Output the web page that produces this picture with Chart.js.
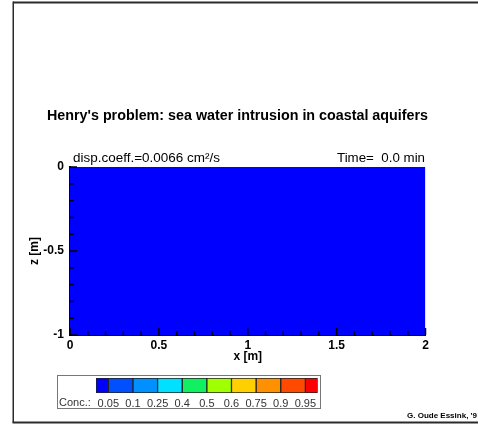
<!DOCTYPE html>
<html><head><meta charset="utf-8">
<script src="https://cdn.jsdelivr.net/npm/chart.js@4/dist/chart.umd.min.js"></script>
<style>
html,body{margin:0;padding:0;background:#fff;}
#wrap{position:relative;width:478px;height:424px;overflow:hidden;background:#fff;}
#main{position:absolute;left:0;top:0;}
#leg{position:absolute;left:57px;top:375px;}
</style></head><body>
<div id="wrap"><canvas id="main" width="478" height="424"></canvas><canvas id="leg" width="265" height="35"></canvas></div>
<script>
// ---- data ----
const xDomain = [0, 2];          // x [m] extent of the aquifer
const zTop = [0, 0];             // z [m] top of the domain (fill down to -1)
const xTicks = [0, 0.5, 1, 1.5, 2];
const zTicks = [0, -0.5, -1];
const concLevels = ['0.05','0.1','0.25','0.4','0.5','0.6','0.75','0.9','0.95'];
const concColors = ['#0000ff','#0050ff','#0090ff','#00e0ff','#10f060','#a0ff00','#ffd000','#ff9000','#ff4a00','#ff0000'];
const initialConc = 0;           // whole domain fresh water at t = 0
const titleText = "Henry's problem: sea water intrusion in coastal aquifers";
const dispText = 'disp.coeff.=0.0066 cm²/s';
const timeText = 'Time=  0.0 min';
const concLabel = 'Conc.:';
const creditText = "G. Oude Essink, '9";

const FONT = '"Liberation Sans", Arial, Helvetica, sans-serif';

function colorFor(c){
  let i = 0;
  while (i < concLevels.length && c >= parseFloat(concLevels[i])) i++;
  return concColors[i];
}
function drawFitted(ctx, text, x, y, w, align){
  const nat = ctx.measureText(text).width;
  const s = w / nat;
  ctx.save();
  ctx.translate(x, y);
  ctx.scale(s, 1);
  ctx.textAlign = align || 'left';
  ctx.fillText(text, 0, 0);
  ctx.restore();
}

const ticksPlugin = {
  id: 'innerTicks',
  afterDatasetsDraw(chart){
    const {ctx, chartArea: a, scales: {x, y}} = chart;
    ctx.save();
    ctx.strokeStyle = '#000';
    ctx.lineWidth = 1.5;
    for (let i = 0; i <= 20; i++){
      const px = x.getPixelForValue(i / 10);
      const L = (i % 5 === 0) ? 7 : 4;
      ctx.beginPath(); ctx.moveTo(px, a.bottom); ctx.lineTo(px, a.bottom - L); ctx.stroke();
    }
    for (let i = 0; i <= 10; i++){
      const py = y.getPixelForValue(-i / 10);
      const L = (i % 5 === 0) ? 7 : 4;
      ctx.beginPath(); ctx.moveTo(a.left, py); ctx.lineTo(a.left + L, py); ctx.stroke();
    }
    ctx.restore();
  }
};

const textPlugin = {
  id: 'texts',
  afterDraw(chart){
    const {ctx, chartArea: a} = chart;
    ctx.save();
    // frame
    ctx.fillStyle = '#2b2b2b';
    ctx.fillRect(13, 1.5, 465, 2);
    ctx.fillRect(12.5, 1.5, 1.5, 421);
    ctx.fillRect(12.5, 421.5, 466, 2);
    // title
    ctx.fillStyle = '#000';
    ctx.textBaseline = 'alphabetic';
    ctx.font = 'bold 15px ' + FONT;
    drawFitted(ctx, titleText, 47, 119.5, 381, 'left');
    // annotations
    ctx.font = '12px ' + FONT;
    drawFitted(ctx, dispText, 73, 161.5, 147, 'left');
    drawFitted(ctx, timeText, 425, 161.5, 88, 'right');
    // axis titles
    ctx.font = 'bold 12px ' + FONT;
    ctx.textAlign = 'center';
    ctx.textBaseline = 'alphabetic';
    ctx.fillText('x [m]', (a.left + a.right) / 2, 360);
    ctx.save();
    ctx.translate(37.5, (a.top + a.bottom) / 2);
    ctx.rotate(-Math.PI / 2);
    ctx.fillText('z [m]', 0, 0);
    ctx.restore();
    // credit
    ctx.font = 'bold 8px ' + FONT;
    ctx.textAlign = 'left';
    ctx.fillText(creditText, 407, 418);
    ctx.restore();
  }
};

new Chart(document.getElementById('main'), {
  type: 'line',
  data: {
    datasets: [{
      data: xDomain.map((xv, i) => ({x: xv, y: zTop[i]})),
      fill: 'start',
      backgroundColor: colorFor(initialConc),
      borderWidth: 0,
      pointRadius: 0,
      tension: 0
    }]
  },
  options: {
    responsive: false,
    animation: false,
    layout: {padding: {top: 167, right: 52.5, left: 0, bottom: 0}},
    plugins: {legend: {display: false}, title: {display: false}, tooltip: {enabled: false}},
    scales: {
      x: {
        type: 'linear', min: xDomain[0], max: xDomain[1],
        afterBuildTicks: s => { s.ticks = xTicks.map(v => ({value: v})); },
        afterFit: s => { s.height = 89; },
        grid: {display: false, drawTicks: false},
        border: {display: true, color: '#000', width: 2},
        ticks: {color: '#000', padding: 3, font: {family: FONT, size: 12, weight: 'bold'},
                maxRotation: 0, autoSkip: false, callback: v => String(v)}
      },
      y: {
        type: 'linear', min: -1, max: 0,
        afterBuildTicks: s => { s.ticks = zTicks.map(v => ({value: v})); },
        afterFit: s => { s.width = 70; },
        grid: {display: false, drawTicks: false},
        border: {display: true, color: '#000', width: 2},
        ticks: {color: '#000', padding: 6, font: {family: FONT, size: 12, weight: 'bold'},
                autoSkip: false, callback: v => String(v)}
      }
    }
  },
  plugins: [ticksPlugin, textPlugin]
});

// ---- colour bar legend ----
const legBox = {
  id: 'legBox',
  afterDraw(chart){
    const ctx = chart.ctx;
    ctx.save();
    ctx.strokeStyle = '#777';
    ctx.lineWidth = 1;
    ctx.strokeRect(0.5, 0.5, 263, 33);
    ctx.fillStyle = '#333';
    ctx.font = '11px ' + FONT;
    ctx.textBaseline = 'middle';
    ctx.textAlign = 'left';
    ctx.fillText(concLabel, 2, 28);
    ctx.restore();
  }
};
const nLev = concLevels.length;
new Chart(document.getElementById('leg'), {
  type: 'bar',
  data: {
    labels: ['c'],
    datasets: concColors.map((c, k) => ({
      data: [[Math.max(k - 1, -0.5), Math.min(k, nLev - 0.5)]],
      backgroundColor: c,
      borderColor: '#222',
      borderWidth: 1,
      borderSkipped: false,
      grouped: false,
      barPercentage: 1,
      categoryPercentage: 1
    }))
  },
  options: {
    responsive: false,
    animation: false,
    indexAxis: 'y',
    layout: {padding: {top: 3, left: 39, right: 4.3, bottom: 0}},
    plugins: {legend: {display: false}, title: {display: false}, tooltip: {enabled: false}},
    scales: {
      y: {type: 'category', display: false},
      x: {
        type: 'linear', min: -0.5, max: nLev - 0.5,
        afterBuildTicks: s => { s.ticks = concLevels.map((l, i) => ({value: i})); },
        afterFit: s => { s.height = 17; },
        grid: {display: false, drawTicks: false},
        border: {display: false},
        ticks: {color: '#333', padding: 4, font: {family: FONT, size: 11},
                maxRotation: 0, autoSkip: false, callback: (v, i) => concLevels[i]}
      }
    }
  },
  plugins: [legBox]
});
</script>
</body></html>
